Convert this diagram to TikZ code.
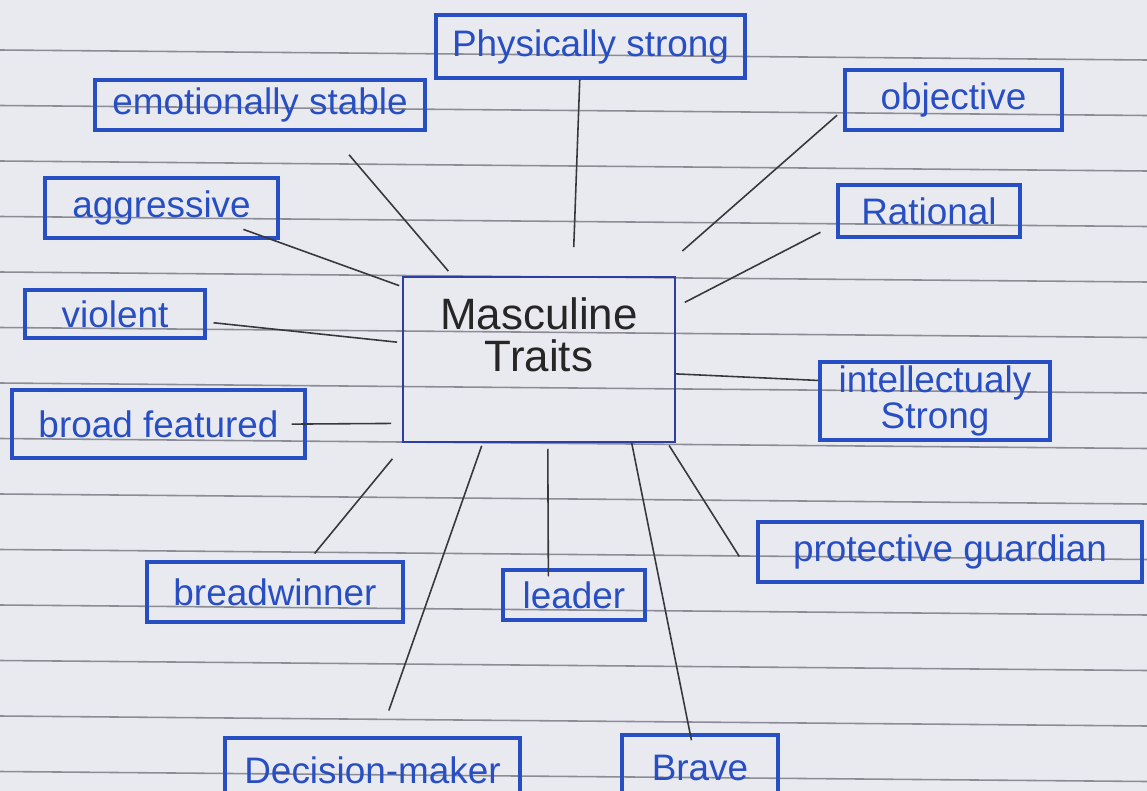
\documentclass[tikz,border=0pt]{standalone}
\usepackage{fontspec}
\setmainfont{Liberation Sans}
\definecolor{paper}{RGB}{233,234,240}
\definecolor{rule}{RGB}{140,140,150}
\definecolor{ink}{RGB}{40,78,196}
\definecolor{coreink}{RGB}{45,62,160}
\definecolor{pencil}{RGB}{55,55,60}
\begin{document}
\begin{tikzpicture}[x=0.02cm,y=-0.02cm,
        trait/.style={draw=ink,line width=1.8pt,text=ink,font=\fontsize{21}{17}\selectfont,inner sep=2pt,align=center},
        link/.style={draw=pencil,line width=0.9pt}]
        \clip (0,0) rectangle (1147,791);
        \fill[paper] (0,0) rectangle (1147,791);
        % ruled paper
        \foreach \y in {50,105.5,...,790}
            \draw[rule,line width=0.9pt] (0,\y) -- (1147,\y+10);
        % centre
        \node[draw=coreink,line width=1.1pt,minimum width=5.44cm,minimum height=3.3cm,
            label={[font=\fontsize{25}{24}\selectfont,align=center,text=black!85,yshift=0.5cm]center:Masculine\\Traits}] (core) at (539,359.5) {};
        % traits
        \node[trait,minimum width=6.18cm,minimum height=1.26cm] (phys) at (590.5,46.5) {Physically strong};
        \node[trait,minimum width=6.6cm,minimum height=1cm] (emo) at (260,105) {emotionally stable};
        \node[trait,minimum width=4.34cm,minimum height=1.2cm] (obj) at (953.5,100) {objective};
        \node[trait,minimum width=4.66cm,minimum height=1.2cm] (aggr) at (161.5,208) {aggressive};
        \node[trait,minimum width=3.64cm,minimum height=1.04cm] (rat) at (929,211) {Rational};
        \node[trait,minimum width=3.6cm,minimum height=0.96cm] (viol) at (115,314) {violent};
        \node[trait,minimum width=4.6cm,minimum height=1.56cm] (intel) at (935,401) {intellectualy\\Strong};
        \node[trait,minimum width=5.86cm,minimum height=1.36cm] (broad) at (158.5,424) {broad featured};
        \node[trait,minimum width=7.68cm,minimum height=1.2cm] (prot) at (950,552) {protective guardian};
        \node[trait,minimum width=5.12cm,minimum height=1.2cm] (bread) at (275,592) {breadwinner};
        \node[trait,minimum width=2.84cm,minimum height=1cm] (lead) at (574,595) {leader};
        \node[trait,minimum width=5.9cm,minimum height=1.3cm] (dec) at (372.5,770.5) {Decision-maker};
        \node[trait,minimum width=3.12cm,minimum height=1.32cm] (brave) at (700,768) {Brave};
        % links
        \draw[link,shorten >=0.58cm] (phys.-108) -- (core.68);
        \draw[link,shorten <=0.61cm,shorten >=0.13cm] (emo.-21) -- (core.136);
        \draw[link,shorten <=0.17cm,shorten >=0.76cm] (obj.-175) -- (core.36);
        \draw[link,shorten <=0.36cm,shorten >=0.2cm] (rat.-172) -- (core.21);
        \draw[link,shorten <=-0.6cm,shorten >=0.06cm] (aggr.-16) -- (core.152);
        \draw[link,shorten <=0.14cm,shorten >=0.1cm] (viol.-5) -- (core.173);
        \draw[link,shorten <=-0.3cm,shorten >=0.22cm] (broad.east) -- (core.-155);
        \draw[link] (core.-6) -- (intel.170);
        \draw[link,shorten <=0.06cm,shorten >=0.64cm] (core.-33) -- (prot.south west);
        \draw[link,shorten >=-0.14cm] (core.-42) -- (brave.106);
        \draw[link,shorten <=0.12cm,shorten >=-0.16cm] (core.-84) -- (lead.134);
        \draw[link,shorten <=0.06cm,shorten >=0.55cm] (core.-124) -- (dec.78);
        \draw[link,shorten <=0.41cm,shorten >=0.18cm] (core.-148) -- (bread.43);
    \end{tikzpicture}
\end{document}
